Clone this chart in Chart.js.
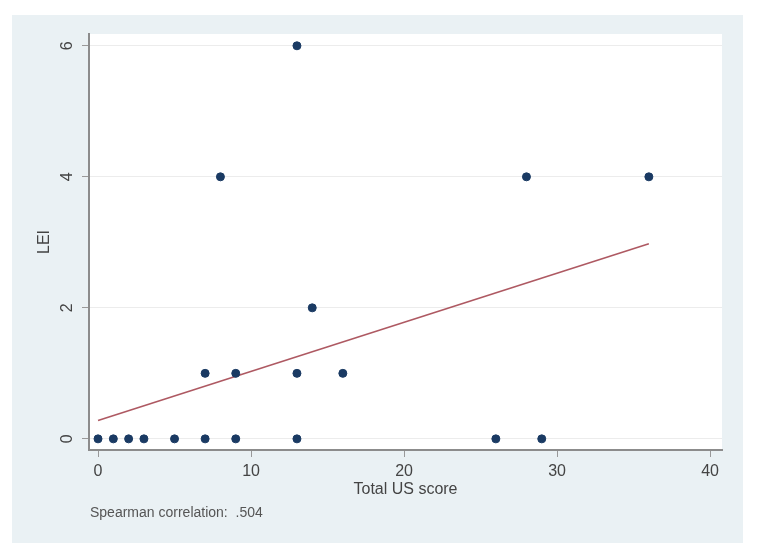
<!DOCTYPE html>
<html lang="en">
<head>
  <meta charset="UTF-8" />
  <title>LEI vs Total US score</title>
  <script src="https://cdn.jsdelivr.net/npm/chart.js"></script>
  <style>
    body { margin: 0; background: #fff; }
  </style>
</head>
<body>
  <canvas id="scatter" width="758" height="559"></canvas>

  <script>
    const usScore = [0, 1, 2, 3, 5, 7, 9, 13, 26, 29, 7, 9, 13, 16, 14, 8, 28, 36, 13];
    const lei     = [0, 0, 0, 0, 0, 0, 0, 0, 0, 0, 1, 1, 1, 1, 2, 4, 4, 4, 6];
    // fitted line end points
    const fitX = [0, 36];
    const fitY = [0.28, 2.98];
    const xTicks = [0, 10, 20, 30, 40];
    const yTicks = [0, 2, 4, 6];
    const note = 'Spearman correlation:  .504';

    const FONT = 'Liberation Sans, Arial, sans-serif';

    const background = {
      id: 'background',
      beforeDraw(chart) {
        const { ctx, chartArea: a } = chart;
        ctx.save();
        ctx.fillStyle = '#ffffff';
        ctx.fillRect(0, 0, chart.width, chart.height);
        ctx.fillStyle = '#eaf1f4';
        ctx.fillRect(12, 15, 731, 528);
        ctx.fillStyle = '#ffffff';
        ctx.fillRect(a.left, a.top, a.right - a.left, a.bottom - a.top);
        ctx.restore();
      },
      afterDraw(chart) {
        const { ctx } = chart;
        const y = chart.scales.y;
        ctx.save();
        ctx.fillStyle = '#444';
        ctx.font = '16px ' + FONT;
        ctx.textAlign = 'center';
        ctx.textBaseline = 'middle';
        yTicks.forEach(v => {
          ctx.save();
          ctx.translate(68, y.getPixelForValue(v));
          ctx.rotate(-Math.PI / 2);
          ctx.fillText(String(v), 0, 0);
          ctx.restore();
        });
        ctx.font = '14px ' + FONT;
        ctx.fillStyle = '#555';
        ctx.textAlign = 'left';
        ctx.fillText(note, 90, 513);
        ctx.restore();
      }
    };

    const points = usScore.map((x, i) => ({ x, y: lei[i] }));
    const fit = fitX.map((x, i) => ({ x, y: fitY[i] }));

    new Chart(document.getElementById('scatter'), {
      type: 'scatter',
      data: {
        datasets: [
          {
            data: points,
            backgroundColor: '#1a3a63',
            borderColor: '#1a3a63',
            pointRadius: 4,
            pointHoverRadius: 4
          },
          {
            data: fit,
            showLine: true,
            borderColor: 'rgba(160, 60, 70, 0.85)',
            borderWidth: 1.6,
            pointRadius: 0
          }
        ]
      },
      options: {
        responsive: false,
        animation: false,
        layout: { padding: { left: 35, right: 36, top: 34, bottom: 60 } },
        plugins: { legend: { display: false }, tooltip: { enabled: false } },
        scales: {
          x: {
            type: 'linear',
            min: -0.59,
            max: 40.78,
            afterBuildTicks(scale) { scale.ticks = xTicks.map(v => ({ value: v })); },
            afterFit(scale) { scale.height = 49; },
            grid: {
              drawOnChartArea: false,
              drawTicks: true,
              tickLength: 7,
              tickColor: '#999'
            },
            border: { color: '#8c8c8c', width: 2 },
            ticks: {
              padding: 5,
              color: '#444',
              font: { family: FONT, size: 16 },
              maxRotation: 0
            },
            title: {
              display: true,
              text: 'Total US score',
              color: '#444',
              padding: 0,
              font: { family: FONT, size: 16 }
            }
          },
          y: {
            type: 'linear',
            min: -0.17,
            max: 6.18,
            afterBuildTicks(scale) { scale.ticks = yTicks.map(v => ({ value: v })); },
            afterFit(scale) { scale.width = 54; },
            grid: {
              color: '#ececec',
              lineWidth: 1,
              drawTicks: true,
              tickLength: 7,
              tickColor: '#999'
            },
            border: { color: '#8c8c8c', width: 2 },
            ticks: { display: false },
            title: {
              display: true,
              text: 'LEI',
              color: '#444',
              padding: 0,
              font: { family: FONT, size: 16 }
            }
          }
        }
      },
      plugins: [background]
    });
  </script>
</body>
</html>
